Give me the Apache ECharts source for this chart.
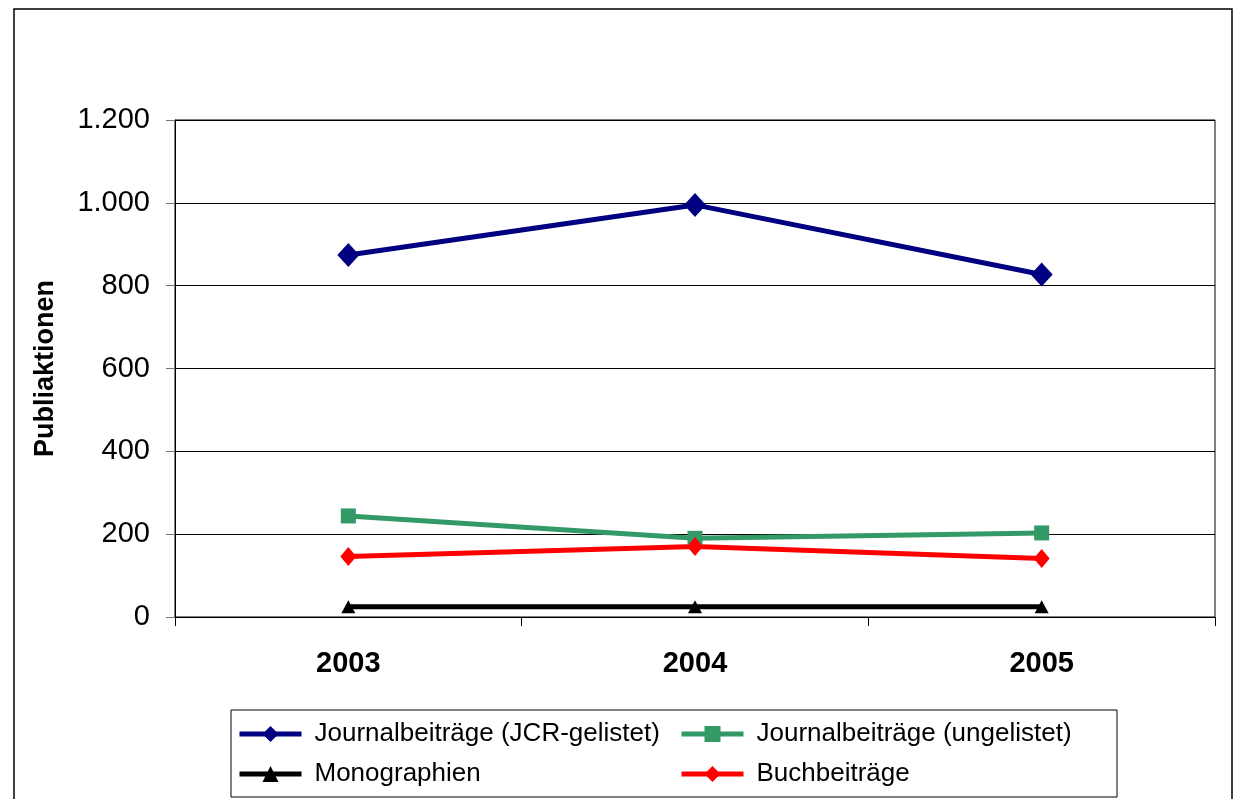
<!DOCTYPE html>
<html>
<head>
<meta charset="utf-8">
<script src="https://cdn.jsdelivr.net/npm/echarts@6/dist/echarts.min.js"></script>
<style>
  html, body { margin: 0; padding: 0; background: #fff; }
  #chart { width: 1235px; height: 799px; }
</style>
</head>
<body>
<div id="chart"></div>
<script>
  var years = ['2003', '2004', '2005']
  var jcrGelistet = [874, 995, 827]
  var ungelistet = [244, 190, 203]
  var monographien = [25, 25, 25]
  var buchbeitraege = [146, 170, 141]
  var yTicks = [0, 200, 400, 600, 800, 1000, 1200]

  var font = 'Liberation Sans, Arial, sans-serif'

  function deNumber (v) {
    return String(v).replace(/\B(?=(\d{3})+(?!\d))/g, '.')
  }

  function lineSeries (name, data, color, symbol, size, width) {
    return {
      name: name,
      type: 'line',
      data: data,
      symbol: symbol,
      symbolSize: size,
      showAllSymbol: true,
      itemStyle: { color: color },
      lineStyle: { color: color, width: width },
      emphasis: { disabled: true },
      z: 3
    }
  }

  var legendText = { fontFamily: font, fontSize: 26, color: '#000', padding: [0, 0, 0, 8] }

  var option = {
    backgroundColor: '#fff',
    animation: false,
    graphic: [
      {
        type: 'rect',
        shape: { x: 14, y: 9, width: 1218, height: 810 },
        style: { fill: 'none', stroke: '#000', lineWidth: 1.5 },
        silent: true,
        z: -1
      },
      {
        type: 'rect',
        shape: { x: 231, y: 710, width: 886, height: 87 },
        style: { fill: '#fff', stroke: '#000', lineWidth: 1 },
        silent: true,
        z: -1
      }
    ],
    legend: [
      {
        orient: 'vertical',
        left: 237,
        top: 721,
        padding: 0,
        itemWidth: 62,
        itemHeight: 20,
        itemGap: 14,
        lineStyle: { width: 5 },
        textStyle: legendText,
        data: ['Journalbeiträge (JCR-gelistet)', 'Monographien']
      },
      {
        orient: 'vertical',
        left: 679,
        top: 721,
        padding: 0,
        itemWidth: 62,
        itemHeight: 20,
        itemGap: 14,
        lineStyle: { width: 5 },
        textStyle: legendText,
        data: ['Journalbeiträge (ungelistet)', 'Buchbeiträge']
      }
    ],
    grid: {
      left: 175,
      right: 20,
      top: 120,
      bottom: 182,
      show: true,
      borderColor: '#000',
      borderWidth: 1
    },
    xAxis: {
      type: 'category',
      data: years,
      boundaryGap: true,
      axisLine: { lineStyle: { color: '#000', width: 1 } },
      axisTick: { show: true, length: 9, lineStyle: { color: '#000' } },
      axisLabel: {
        margin: 32,
        fontFamily: font,
        fontSize: 29,
        fontWeight: 'bold',
        color: '#000'
      }
    },
    yAxis: {
      type: 'value',
      min: yTicks[0],
      max: yTicks[yTicks.length - 1],
      interval: 200,
      name: 'Publiaktionen',
      nameLocation: 'middle',
      nameRotate: 90,
      nameGap: 116,
      nameTextStyle: { fontFamily: font, fontSize: 27, fontWeight: 'bold', color: '#000' },
      axisLine: { show: true, lineStyle: { color: '#000', width: 1 } },
      axisTick: { show: true, length: 9, lineStyle: { color: '#777' } },
      axisLabel: {
        margin: 25,
        fontFamily: font,
        fontSize: 29,
        color: '#000',
        formatter: deNumber
      },
      splitLine: { show: true, lineStyle: { color: '#000', width: 1 } }
    },
    series: [
      lineSeries('Journalbeiträge (JCR-gelistet)', jcrGelistet, '#000080', 'diamond', [22, 24], 5),
      lineSeries('Journalbeiträge (ungelistet)', ungelistet, '#339966', 'rect', [15, 15], 5),
      lineSeries('Monographien', monographien, '#000000', 'triangle', [14, 13], 5),
      lineSeries('Buchbeiträge', buchbeitraege, '#ff0000', 'diamond', [16, 19], 5)
    ]
  }

  var myChart = echarts.init(document.getElementById('chart'))
  myChart.setOption(option)
</script>
</body>
</html>
